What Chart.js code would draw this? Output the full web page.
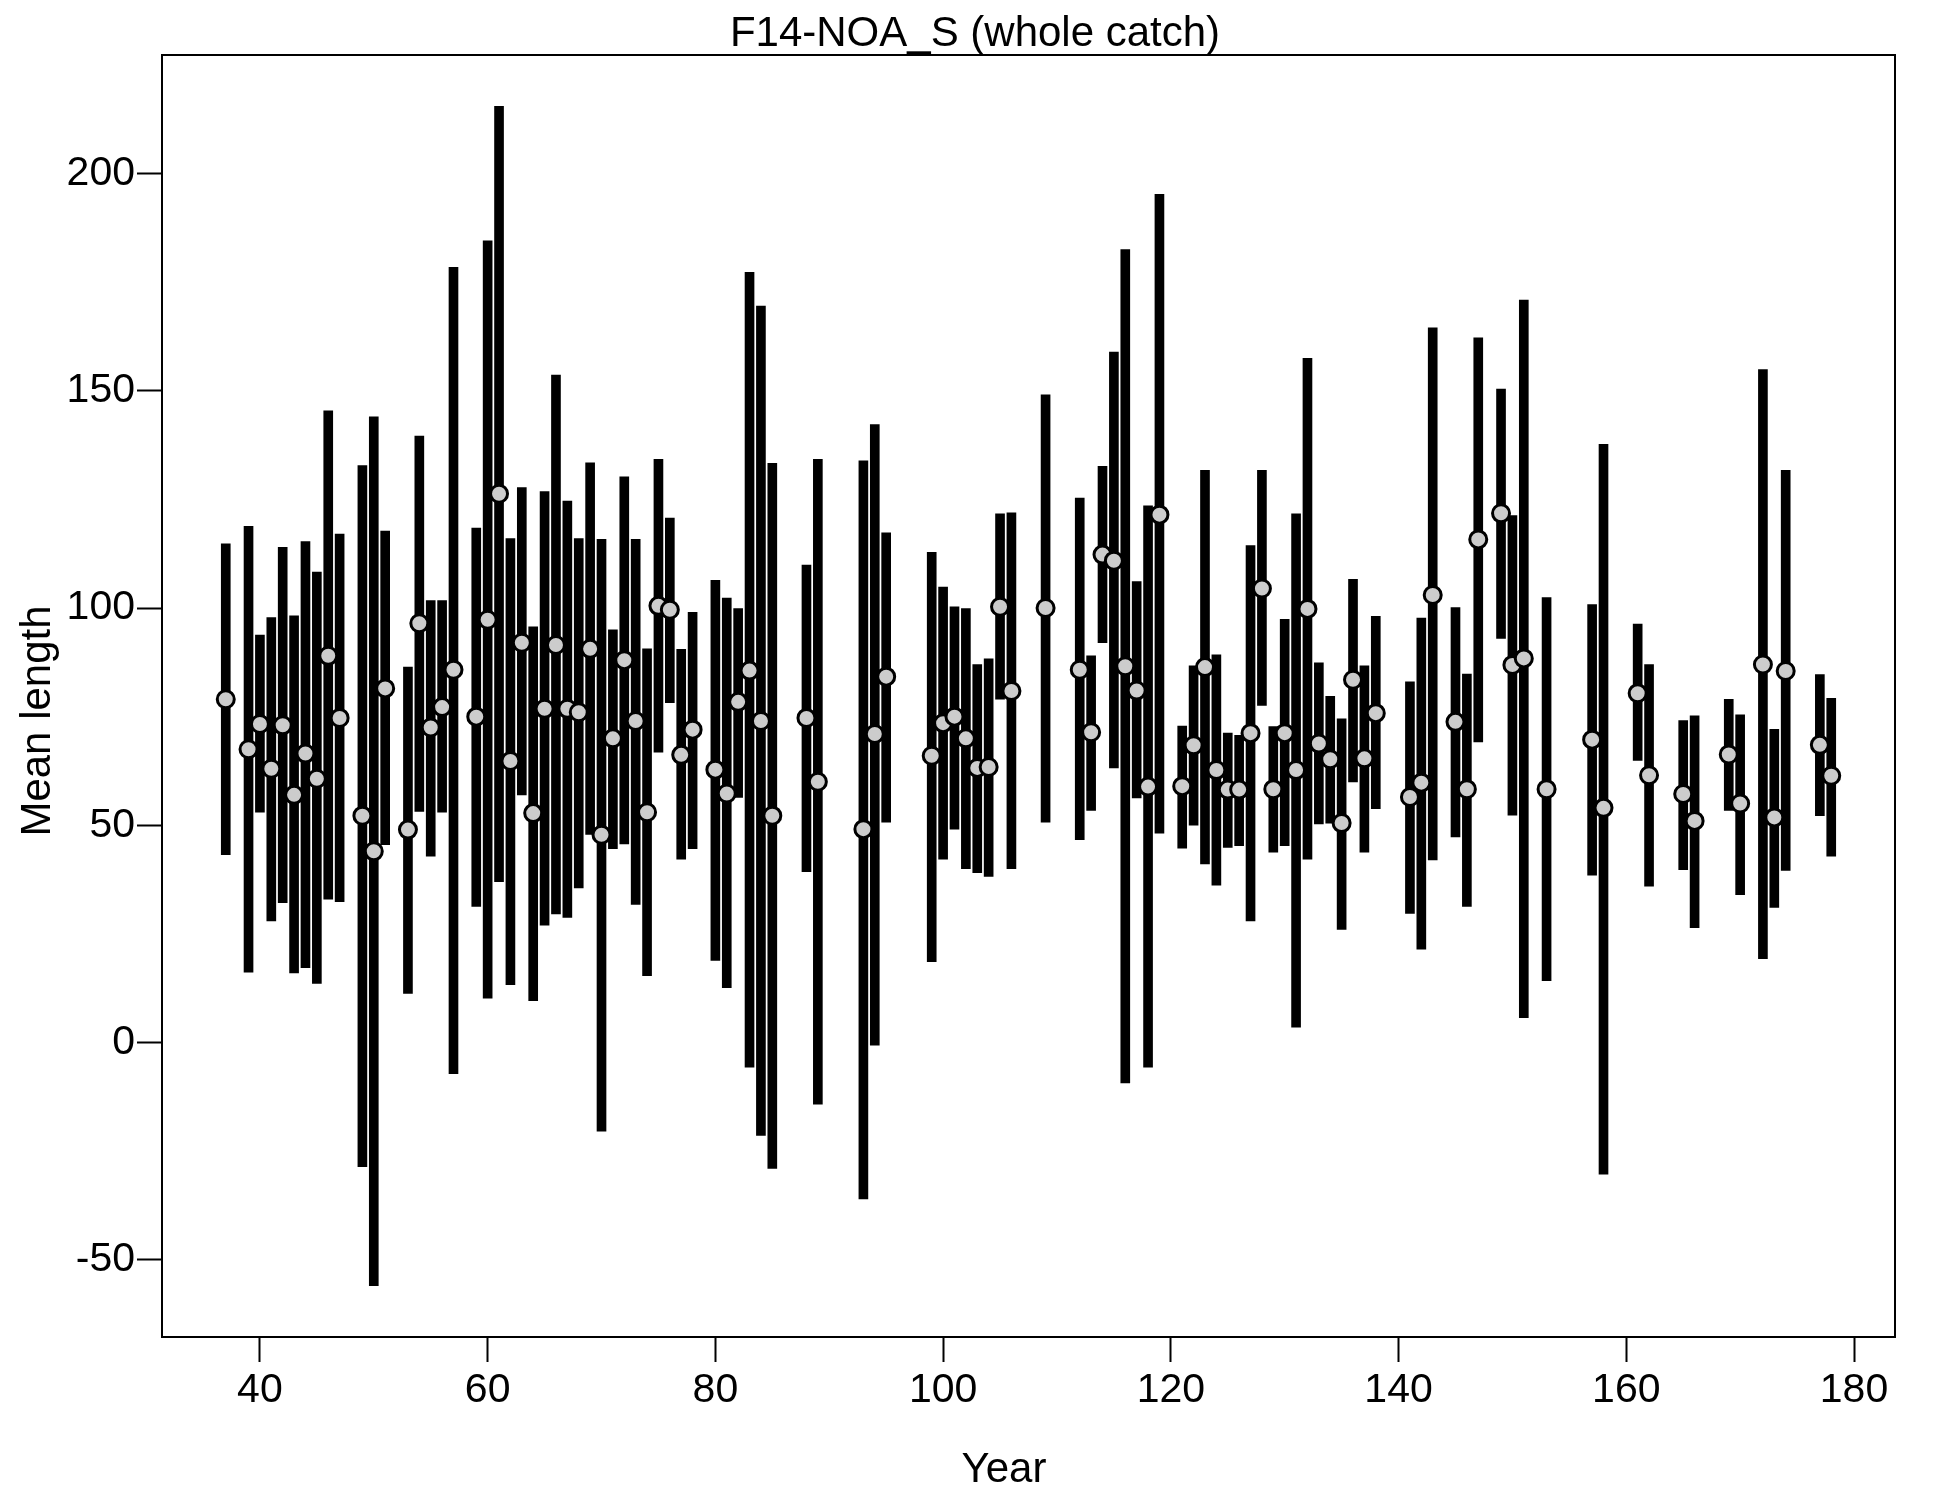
<!DOCTYPE html>
<html>
<head>
<meta charset="utf-8">
<script src="https://cdn.jsdelivr.net/npm/chart.js@4.4.0/dist/chart.umd.min.js"></script>
<style>
  html, body { margin: 0; padding: 0; background: #fff; }
  canvas { display: block; }
</style>
</head>
<body>
<canvas id="chart" width="1950" height="1500"></canvas>
<script>
// Values
const years = [37, 39, 40, 41, 42, 43, 44, 45, 46, 47, 49, 50, 51, 53, 54, 55, 56, 57, 59, 60,
  61, 62, 63, 64, 65, 66, 67, 68, 69, 70, 71, 72, 73, 74, 75, 76, 77, 78, 80, 81,
  82, 83, 84, 85, 88, 89, 93, 94, 95, 99, 100, 101, 102, 103, 104, 105, 106, 109, 112, 113,
  114, 115, 116, 117, 118, 119, 121, 122, 123, 124, 125, 126, 127, 128, 129, 130, 131, 132, 133, 134,
  135, 136, 137, 138, 141, 142, 143, 145, 146, 147, 149, 150, 151, 153, 157, 158, 161, 162, 165, 166,
  169, 170, 172, 173, 174, 177, 178];

const means = [79, 67.5, 73.3, 63, 73, 57, 66.5, 60.7, 89, 74.7, 52.2, 44, 81.5, 49, 96.5, 72.5, 77.2, 85.8, 75, 97.3,
  126.3, 64.8, 92, 52.8, 76.8, 91.5, 76.8, 76, 90.6, 47.8, 70, 88, 74, 53, 100.5, 99.6, 66.2, 72, 62.8, 57.3,
  78.4, 85.6, 74, 52.2, 74.7, 60, 49.1, 71, 84.2, 66, 73.5, 75, 70, 63.2, 63.4, 100.3, 80.9, 100, 85.8, 71.4,
  112.3, 110.9, 86.6, 81, 58.9, 121.5, 59, 68.4, 86.4, 62.7, 58.2, 58.2, 71.2, 104.5, 58.3, 71.2, 62.7, 99.8, 68.8, 65.2,
  50.5, 83.5, 65.4, 75.8, 56.5, 59.8, 103, 73.8, 58.3, 115.8, 121.8, 86.9, 88.4, 58.3, 69.7, 54, 80.4, 61.5, 57.2, 51,
  66.3, 55, 87, 51.8, 85.5, 68.5, 61.4];

const lower = [43.2, 16.2, 53, 28, 32.2, 16, 17.2, 13.6, 33, 32.4, -28.6, -56, 45.5, 11.3, 53.2, 42.9, 53, -7.2, 31.3, 10.2,
  37, 13.3, 57, 9.6, 27, 29.6, 28.8, 35.6, 47.9, -20.4, 44.6, 45.7, 31.8, 15.4, 66.8, 78.2, 42.2, 44.6, 18.9, 12.6,
  56.4, -5.7, -21.4, -29, 39.3, -14.2, -36, -0.6, 50.7, 18.6, 42.2, 49.1, 40, 39.1, 38.2, 79, 40, 50.7, 46.7, 53.4,
  92, 63.2, -9.3, 56.3, -5.7, 48.2, 44.7, 50, 41.1, 36.2, 44.9, 45.3, 28, 77.6, 43.8, 45.3, 3.5, 42.2, 50.3, 50.5,
  26, 60, 43.8, 53.8, 29.7, 21.5, 42, 47.3, 31.3, 69.2, 93, 52.3, 5.7, 14.2, 38.5, -30.3, 64.9, 36, 39.8, 26.4,
  53.4, 34, 19.3, 31.1, 39.6, 52.2, 42.9];

const upper = [114.8, 118.8, 93.8, 97.8, 114, 98.2, 115.3, 108.3, 145.4, 117, 132.8, 144, 117.7, 86.4, 139.6, 101.7, 101.7, 178.4, 118.4, 184.5,
  215.5, 116, 127.7, 95.7, 126.8, 153.6, 124.6, 116, 133.4, 115.8, 95, 130.2, 115.8, 90.6, 134.2, 120.7, 90.5, 99, 106.4, 102.3,
  99.9, 177.3, 169.5, 133.3, 109.9, 134.2, 133.9, 142.2, 117.3, 112.8, 104.8, 100.3, 99.9, 87, 88.3, 121.7, 121.9, 149.1, 125.3, 89,
  132.6, 158.9, 182.5, 106.1, 123.5, 195.2, 72.8, 86.7, 131.7, 89.2, 71.2, 70.7, 114.4, 131.7, 72.7, 97.4, 121.7, 157.5, 87.4, 79.7,
  74.5, 106.6, 86.7, 98.1, 83, 97.7, 164.5, 100.1, 84.8, 162.2, 150.4, 121.3, 170.9, 102.4, 100.8, 137.7, 96.3, 87, 74.1, 75.2,
  79, 75.4, 154.9, 72.1, 131.7, 84.7, 79.2];

const xTicks = [40, 60, 80, 100, 120, 140, 160, 180];
const yTicks = [-50, 0, 50, 100, 150, 200];

const chartTitle = "F14-NOA_S (whole catch)";
const xTitle = "Year";
const yTitle = "Mean length";

const FONT = "'Liberation Sans', Arial, sans-serif";

// Box round the plot area, plus the title and the two axis titles
const frameAndTitles = {
  id: "frameAndTitles",
  afterDraw(chart) {
    const { ctx, chartArea: a } = chart;
    ctx.save();
    ctx.strokeStyle = "#000";
    ctx.lineWidth = 2;
    ctx.strokeRect(a.left, a.top, a.right - a.left, a.bottom - a.top);
    ctx.fillStyle = "#000";
    ctx.font = `42px ${FONT}`;
    ctx.textAlign = "center";
    ctx.textBaseline = "alphabetic";
    ctx.fillText(chartTitle, 975, 46);
    ctx.fillText(xTitle, 1004, 1482);
    ctx.translate(50, 721);
    ctx.rotate(-Math.PI / 2);
    ctx.fillText(yTitle, 0, 0);
    ctx.restore();
  },
};

const tickGrid = {
  display: true,
  drawOnChartArea: false,
  drawTicks: true,
  tickLength: 25,
  tickWidth: 2,
  tickColor: "#000",
  offset: false,
};

const ctx = document.getElementById("chart").getContext("2d");
new Chart(ctx, {
  type: "bar",
  data: {
    datasets: [
      {
        type: "scatter",
        data: years.map((x, i) => ({ x: x, y: means[i] })),
        pointRadius: 8.5,
        pointBorderWidth: 3,
        pointBackgroundColor: "#cccccc",
        pointBorderColor: "#000",
        order: 0,
      },
      {
        type: "bar",
        data: years.map((x, i) => ({ x: x, y: [lower[i], upper[i]] })),
        backgroundColor: "#000",
        borderWidth: 0,
        barThickness: 9,
        order: 1,
      },
    ],
  },
  options: {
    responsive: false,
    maintainAspectRatio: false,
    animation: false,
    devicePixelRatio: 1,
    layout: { padding: { top: 55, right: 55, left: 0, bottom: 0 } },
    plugins: {
      legend: { display: false },
      tooltip: { enabled: false },
      title: { display: false },
    },
    scales: {
      x: {
        type: "linear",
        min: 31.4,
        max: 183.6,
        offset: false,
        afterBuildTicks: (axis) => {
          axis.ticks = xTicks.map((v) => ({ value: v }));
        },
        afterFit: (scale) => {
          scale.height = 163;
        },
        grid: tickGrid,
        border: { display: false },
        ticks: {
          font: { family: FONT, size: 41 },
          color: "#000",
          padding: 4,
          maxRotation: 0,
          autoSkip: false,
        },
      },
      y: {
        type: "linear",
        min: -67.8,
        max: 227.3,
        afterBuildTicks: (axis) => {
          axis.ticks = yTicks.map((v) => ({ value: v }));
        },
        afterFit: (scale) => {
          scale.width = 162;
        },
        grid: tickGrid,
        border: { display: false },
        ticks: {
          font: { family: FONT, size: 41 },
          color: "#000",
          padding: 2,
          autoSkip: false,
        },
      },
    },
  },
  plugins: [frameAndTitles],
});
</script>
</body>
</html>
